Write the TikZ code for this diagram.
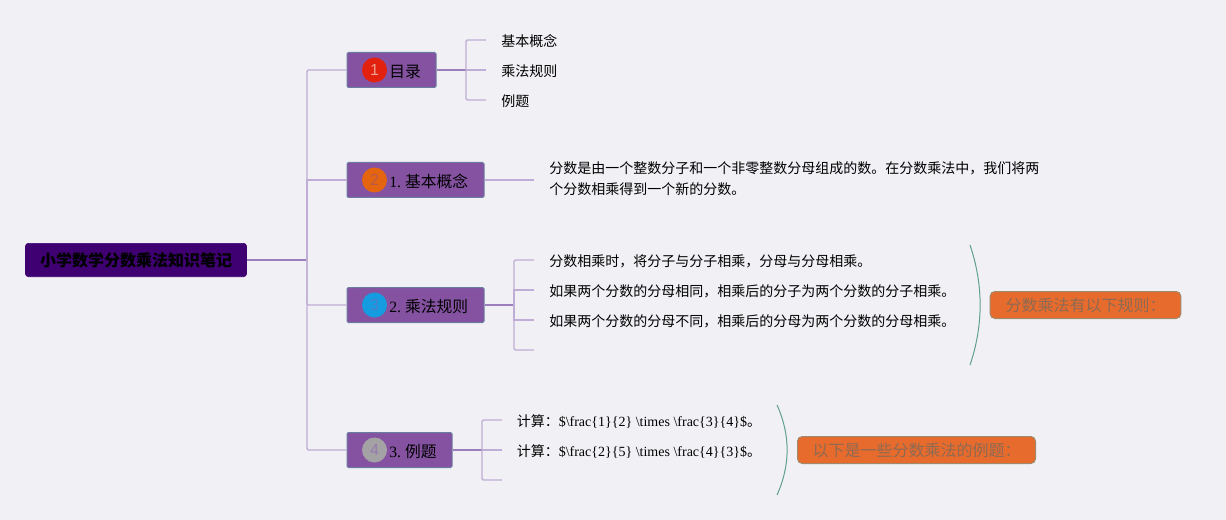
\documentclass[tikz,border=0pt]{standalone}
\usepackage{fontspec}
\setmainfont{Liberation Serif}
\newfontfamily\cjk{Noto Sans CJK SC}
\newfontfamily\cirf{Liberation Sans}
\definecolor{bgc}{HTML}{F1F1F5}
\definecolor{rootc}{HTML}{3F0071}
\definecolor{mainc}{HTML}{8452A1}
\definecolor{mainb}{HTML}{6C7CA0}
\definecolor{edgeA}{HTML}{9A7FBC}
\definecolor{edgeB}{HTML}{C0ADD6}
\definecolor{brc}{HTML}{62A08E}
\definecolor{orc}{HTML}{E76B2D}
\definecolor{orb}{HTML}{A08A6C}
\definecolor{ort}{HTML}{8E6A52}
\definecolor{bdgA}{HTML}{E2210F}
\definecolor{bdgB}{HTML}{E5640F}
\definecolor{bdgC}{HTML}{149BE0}
\definecolor{bdgD}{HTML}{A5A2A5}
\definecolor{numA}{HTML}{F0A090}
\definecolor{numB}{HTML}{BA5A48}
\definecolor{numC}{HTML}{4C7FCB}
\definecolor{numD}{HTML}{947CAC}
\tikzset{
 x=0.75pt,y=-0.75pt,
 rootnode/.style={rectangle,rounded corners=2.2pt,fill=rootc,draw=rootc,line width=0.5pt,inner sep=0pt,font=\fontsize{12}{14}\selectfont\cjk\bfseries,text=black},
 mainnode/.style={rectangle,rounded corners=1pt,fill=mainc,draw=mainb,line width=0.75pt,inner sep=0pt,minimum height=26.25pt},
 maintext/.style={font=\fontsize{11.8}{14}\selectfont,text=black,inner sep=0pt,anchor=west},
 badge/.style={circle,minimum size=18.75pt,inner sep=0pt,font=\fontsize{12}{12}\selectfont\cirf},
 leaf/.style={font=\fontsize{10.5}{15.75}\selectfont,text=black,inner sep=0pt,anchor=west},
 sumnode/.style={rectangle,rounded corners=3.5pt,fill=orc,draw=orb,line width=0.75pt,inner sep=0pt,minimum height=20.25pt,font=\fontsize{12}{14}\selectfont\cjk,text=ort},
 edgeone/.style={edgeA,line width=1.2pt},
 edgetwo/.style={edgeB,line width=1.1pt},
 bracket/.style={brc,line width=0.75pt},
}
\begin{document}
\begin{tikzpicture}
\useasboundingbox[fill=bgc] (0,0) rectangle (1226,520);
\node[rootnode,minimum width=165.75pt,minimum height=25pt] (root) at (136,260) {小学数学分数乘法知识笔记};
% main nodes
\node[mainnode,minimum width=66.75pt] (m1) at (391.5,70) {};
\node[mainnode,minimum width=102.75pt] (m2) at (415.5,180) {};
\node[mainnode,minimum width=102.75pt] (m3) at (415.5,305) {};
\node[mainnode,minimum width=78.75pt] (m4) at (399.5,450) {};
\node[badge,fill=bdgA,text=numA] (b1) at (374.5,70) {1};
\node[badge,fill=bdgB,text=numB] (b2) at (374.5,180) {2};
\node[badge,fill=bdgC,text=numC] (b3) at (374.5,305) {3};
\node[badge,fill=bdgD,text=numD] (b4) at (374.5,450) {4};
\node[maintext] (t1) at (389,71.5) {\cjk 目录};
\node[maintext] (t2) at (389,181.5) {1.\kern3pt{\cjk 基本概念}};
\node[maintext] (t3) at (389,306.5) {2.\kern3pt{\cjk 乘法规则}};
\node[maintext] (t4) at (389,451.5) {3.\kern3pt{\cjk 例题}};
% leaves
\node[leaf] (a1) at (501,41.5) {\cjk 基本概念};
\node[leaf] (a2) at (501,71.5) {\cjk 乘法规则};
\node[leaf] (a3) at (501,101.5) {\cjk 例题};
\node[leaf,anchor=north west,align=left] (d1) at (549,161) {\cjk 分数是由一个整数分子和一个非零整数分母组成的数。在分数乘法中，我们将两\\\cjk 个分数相乘得到一个新的分数。};
\node[leaf] (r1) at (549,261.5) {\cjk 分数相乘时，将分子与分子相乘，分母与分母相乘。};
\node[leaf] (r2) at (549,291.5) {\cjk 如果两个分数的分母相同，相乘后的分子为两个分数的分子相乘。};
\node[leaf] (r3) at (549,321.5) {\cjk 如果两个分数的分母不同，相乘后的分母为两个分数的分母相乘。};
\node[leaf] (e1) at (516.5,421.5) {{\cjk 计算：}\$\textbackslash frac\{1\}\{2\} \textbackslash times \textbackslash frac\{3\}\{4\}\${\cjk 。}};
\node[leaf] (e2) at (516.5,451.5) {{\cjk 计算：}\$\textbackslash frac\{2\}\{5\} \textbackslash times \textbackslash frac\{4\}\{3\}\${\cjk 。}};
% summaries
\node[sumnode,minimum width=143pt] (s1) at (1085.5,305) {分数乘法有以下规则：};
\node[sumnode,minimum width=178.5pt] (s2) at (916.5,450) {以下是一些分数乘法的例题：};
% free ends and junctions
\coordinate (j0) at (307,260);
\coordinate (j1) at (466,70);
\coordinate (j3) at (514,305);
\coordinate (j4) at (482,450);
\coordinate (ea1) at (486,40);
\coordinate (ea2) at (486,70);
\coordinate (ea3) at (486,100);
\coordinate (ed1) at (534,180);
\coordinate (er1) at (534,260);
\coordinate (er2) at (534,290);
\coordinate (er3) at (534,320);
\coordinate (er4) at (534,350);
\coordinate (ee1) at (502,420);
\coordinate (ee2) at (502,450);
\coordinate (ee3) at (502,480);
\coordinate (br1a) at (970,245);
\coordinate (br1b) at (970,365);
\coordinate (br2a) at (777,405);
\coordinate (br2b) at (777,495);
% connectors
\draw[edgeone] (root.east) -- (j0);
\draw[edgetwo,rounded corners=1pt] (m1.west) -| (j0);
\draw[edgetwo] (m2.west) -| (j0);
\draw[edgetwo,rounded corners=1pt] (m3.west) -| (j0);
\draw[edgetwo,rounded corners=1pt] (m4.west) -| (j0);
\draw[edgeone] (m1.east) -- (j1);
\draw[edgetwo,rounded corners=1pt] (ea1) -| (j1);
\draw[edgetwo] (j1) -- (ea2);
\draw[edgetwo,rounded corners=1pt] (ea3) -| (j1);
\draw[edgetwo] (m2.east) -- (ed1);
\draw[edgeone] (m3.east) -- (j3);
\draw[edgetwo,rounded corners=1pt] (er1) -| (j3);
\draw[edgetwo] (er2) -| (j3);
\draw[edgetwo] (er3) -| (j3);
\draw[edgetwo,rounded corners=1pt] (er4) -| (j3);
\draw[edgeone] (m4.east) -- (j4);
\draw[edgetwo,rounded corners=1pt] (ee1) -| (j4);
\draw[edgetwo] (j4) -- (ee2);
\draw[edgetwo,rounded corners=1pt] (ee3) -| (j4);
\draw[bracket] (br1a) .. controls (983.5,285) and (983.5,325) .. (br1b);
\draw[bracket] (br2a) .. controls (790.5,435) and (790.5,465) .. (br2b);
\end{tikzpicture}
\end{document}
